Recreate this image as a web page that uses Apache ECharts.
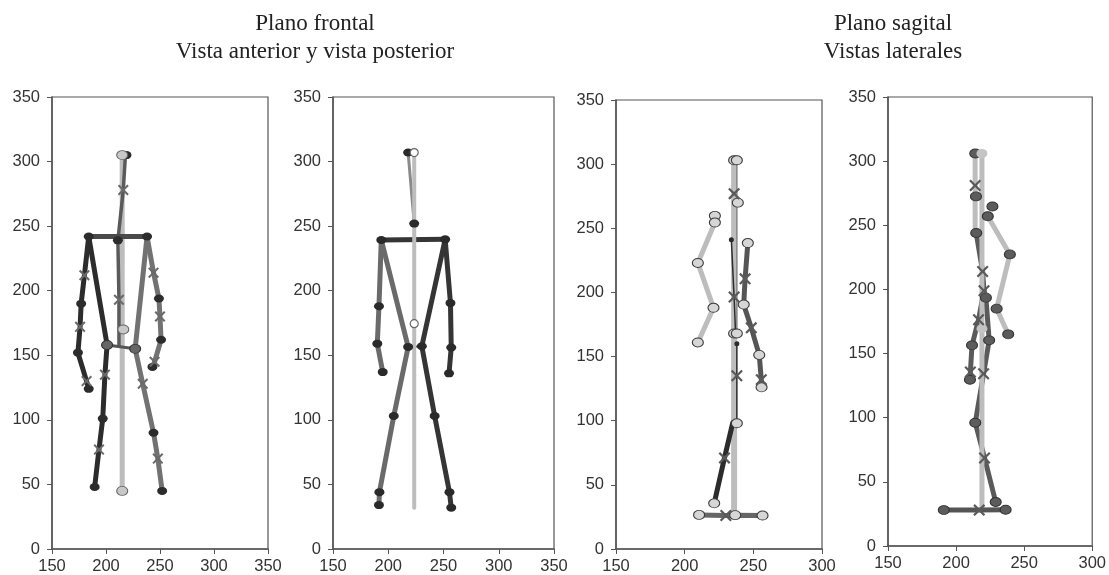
<!DOCTYPE html>
<html><head><meta charset="utf-8">
<script src="https://cdn.jsdelivr.net/npm/echarts@6/dist/echarts.min.js"></script>
<style>html,body{margin:0;padding:0;background:#fff}#c{width:1109px;height:575px}</style>
</head><body><div id="c"></div>
<script>
// ---------- titles & ticks ----------
const titleFrontal = ['Plano frontal', 'Vista anterior y vista posterior'];
const titleSagital = ['Plano sagital', 'Vistas laterales'];
const yRange = [0, 350, 50];
const xRangeFrontal = [150, 350, 50];
const xRangeSagital = [150, 300, 50];

// ---------- Panel 1: vista anterior ----------
const p1Spine = [[215, 305], [215, 45]];
const p1Head = [[218, 305], [216, 278], [211, 239], [212, 193], [212, 157]];
const p1Shoulders = [[184, 242], [238, 242]];
const p1LeftArm = [[184, 242], [180, 212], [177, 190], [176, 172], [174, 152], [182, 130], [184, 124]];
const p1LeftTrunk = [[184, 242], [201, 158]];
const p1Hips = [[201, 158], [227, 155]];
const p1LeftLeg = [[201, 158], [199, 135], [197, 101], [193.5, 77], [189.5, 48]];
const p1RightTrunk = [[238, 242], [227, 155]];
const p1RightArm = [[238, 242], [244, 214], [249, 194], [250, 180], [251, 162], [245, 145], [243, 141]];
const p1RightLeg = [[227, 155], [234, 128], [244, 90], [248, 70], [252, 45]];
const p1Joints = [[184, 242], [238, 242], [177, 190], [174, 152], [184, 124], [197, 101], [189.5, 48],
  [249, 194], [251, 162], [243, 141], [244, 90], [252, 45], [219, 305], [211, 239]];
const p1HipJoints = [[201, 158], [227, 155]];
const p1Crosses = [[180, 212], [176, 172], [182, 130], [199, 135], [193.5, 77], [244, 214], [250, 180],
  [245, 145], [234, 128], [248, 70], [216, 278], [212, 193]];
const p1Light = [[215, 305], [215, 45], [216, 170]];

// ---------- Panel 2: vista posterior ----------
const p2Spine = [[223.5, 307], [223.5, 32]];
const p2Head = [[218, 307], [223.5, 252]];
const p2Shoulders = [[193.7, 239.3], [251.5, 239.8]];
const p2LeftArm = [[193.7, 239.3], [191.6, 188], [190.1, 159], [195, 137]];
const p2RightArm = [[251.5, 239.8], [256.3, 190.4], [257, 156], [255, 136]];
const p2LeftTrunk = [[193.7, 239.3], [218, 156.5]];
const p2RightTrunk = [[251.5, 239.8], [230.4, 157]];
const p2LeftLeg = [[218, 156.5], [205, 103], [192, 44], [191.6, 34]];
const p2RightLeg = [[230.4, 157], [242, 103], [255.4, 44], [257, 32]];
const p2Hips = [[218, 156.5], [230.4, 157]];
const p2Joints = [[193.7, 239.3], [251.5, 239.8], [191.6, 188], [190.1, 159], [195, 137], [256.3, 190.4],
  [257, 156], [255, 136], [218, 156.5], [230.4, 157], [205, 103], [192, 44], [191.6, 34], [242, 103],
  [255.4, 44], [257, 32], [218, 307], [223.5, 252]];
const p2Open = [[223.5, 307], [223.5, 174.5]];

// ---------- Panel 3: vista lateral ----------
const p3Spine = [[236, 303], [236, 26]];
const p3Neck = [[238, 303], [238, 168]];
const p3Thin = [[234, 241], [236, 196], [237, 170]];
const p3Thin2 = [[238, 160], [238, 100]];
const p3LightArm = [[222, 254.5], [209.6, 223], [221, 188], [209.6, 161]];
const p3DarkArm = [[246, 238.5], [244, 210.6], [243, 190.5], [248.5, 172.4], [254.3, 151.3], [255.8, 132], [256, 126]];
const p3Leg = [[235, 98.3], [229, 71], [221.5, 35.6]];
const p3Foot = [[210.5, 26.6], [230, 26.1], [236.8, 26.4], [256.7, 26.1]];
const p3Circles = [[236, 303], [238, 303], [238.7, 270], [222, 259.7], [222, 254.5], [209.6, 223], [221, 188],
  [209.6, 161], [246, 238.5], [243, 190.5], [254.3, 151.3], [256, 126], [236, 168], [238, 168], [238, 98],
  [221.5, 35.6], [210.5, 26.6], [236.8, 26.4], [256.7, 26.1]];
const p3Crosses = [[236, 277], [236, 196.4], [238, 135], [244, 210.6], [248.5, 172.4], [255.8, 132], [229, 71], [230, 26.1]];
const p3Dots = [[234, 241], [238, 160]];

// ---------- Panel 4: vista lateral ----------
const p4Spine = [[219, 306], [219, 28]];
const p4Neck = [[214, 306], [214, 244]];
const p4Trunk = [[214.8, 244], [219.5, 214], [220.5, 199], [221.9, 193.6], [224.3, 160.3], [220.2, 134.3],
  [214.1, 96.1], [220.9, 68.6], [229.1, 34.3]];
const p4Arm = [[220.5, 199], [216.5, 176.4], [211.7, 156.4], [210.5, 135.6], [210.2, 129.6]];
const p4LightArm = [[223.3, 257], [239.5, 227.3], [229.8, 185], [238.3, 165]];
const p4Foot = [[191, 28], [217, 28], [236.4, 28.3]];
const p4Joints = [[214.1, 306], [214.6, 272.5], [214.8, 244], [221.9, 193.6], [211.7, 156.4], [210.2, 129.6],
  [224.3, 160.3], [214.1, 96.1], [229.1, 34.3], [191, 28], [236.4, 28.3], [226.7, 264.7], [223.3, 257],
  [239.5, 227.3], [229.8, 185], [238.3, 165]];
const p4Light = [[219, 306], [219, 169.4]];
const p4Crosses = [[214, 281], [219.5, 214], [220.5, 199], [216.5, 176.4], [210.5, 135.6], [220.2, 134.3],
  [220.9, 68.6], [217, 28]];

// ---------- styles ----------
const BLACK = '#2c2c2c', DARK = '#4a4a4a', MID = '#727272', LIGHT = '#bdbdbd';
const CROSS = 'path://M0,1.3L1.3,0L5,3.7L8.7,0L10,1.3L6.3,5L10,8.7L8.7,10L5,6.3L1.3,10L0,8.7L3.7,5Z';
const chart = echarts.init(document.getElementById('c'));
const series = [];
function ln(g, data, color, width) {
  series.push({ type: 'line', xAxisIndex: g, yAxisIndex: g, data, showSymbol: false, silent: true,
    lineStyle: { color, width, cap: 'round', join: 'round' }, z: 2 });
}
function pts(g, data, symbol, size, color, border, bw, z) {
  series.push({ type: 'scatter', xAxisIndex: g, yAxisIndex: g, data, symbol, symbolSize: size, silent: true,
    itemStyle: { color, borderColor: border, borderWidth: bw, opacity: 1 }, z: z || 3 });
}
// panel 1
ln(0, p1Spine, LIGHT, 5);
ln(0, p1Head, '#5a5a5a', 3.5);
ln(0, p1Shoulders, DARK, 5);
ln(0, p1LeftTrunk, BLACK, 5);
ln(0, p1LeftArm, BLACK, 5);
ln(0, p1LeftLeg, BLACK, 5);
ln(0, p1RightTrunk, MID, 5);
ln(0, p1RightArm, MID, 5);
ln(0, p1RightLeg, MID, 5);
ln(0, p1Hips, '#555', 3);
pts(0, p1Joints, 'circle', [10, 8], BLACK, BLACK, 0);
pts(0, p1HipJoints, 'circle', [11, 9], '#666', '#333', 1);
pts(0, p1Crosses, CROSS, 11, '#6a6a6a', null, 0, 4);
pts(0, p1Light, 'circle', [11, 9], '#c8c8c8', '#666', 1);
// panel 2
ln(1, p2Head, '#8a8a8a', 3);
ln(1, p2Shoulders, '#353535', 5);
ln(1, p2LeftArm, '#6a6a6a', 5);
ln(1, p2RightArm, '#353535', 5);
ln(1, p2LeftTrunk, '#6a6a6a', 5);
ln(1, p2RightTrunk, '#353535', 5);
ln(1, p2LeftLeg, '#6a6a6a', 5);
ln(1, p2RightLeg, '#353535', 5);
ln(1, p2Hips, '#555', 2);
ln(1, p2Spine, LIGHT, 4);
pts(1, p2Joints, 'circle', [10, 8], '#2a2a2a', '#2a2a2a', 0);
pts(1, p2Open, 'circle', 8, '#fff', '#666', 1.2);
// panel 3
ln(2, p3Spine, LIGHT, 6);
ln(2, p3Neck, '#888', 1.5);
ln(2, p3Thin, BLACK, 1.5);
ln(2, p3Thin2, BLACK, 1.5);
ln(2, p3LightArm, LIGHT, 5);
ln(2, p3DarkArm, '#555', 5);
ln(2, p3Leg, BLACK, 5);
ln(2, p3Foot, '#666', 5);
pts(2, p3Circles, 'circle', [11, 9], '#d6d6d6', '#3a3a3a', 1);
pts(2, p3Crosses, CROSS, 12, '#5a5a5a', null, 0, 4);
pts(2, p3Dots, 'circle', 5, BLACK, BLACK, 0);
// panel 4
ln(3, p4Neck, LIGHT, 5);
ln(3, p4LightArm, LIGHT, 5);
ln(3, p4Trunk, '#5a5a5a', 5);
ln(3, p4Arm, '#5a5a5a', 5);
ln(3, p4Spine, LIGHT, 5);
ln(3, p4Foot, '#555', 5);
pts(3, p4Joints, 'circle', [11, 9], '#5c5c5c', '#333', 1);
pts(3, p4Light, 'circle', [11, 9], '#c4c4c4', '#c4c4c4', 0);
pts(3, p4Crosses, CROSS, 12, '#5a5a5a', null, 0, 4);

const grids = [
  { left: 52, width: 216, top: 97, height: 453 },
  { left: 333, width: 221, top: 97, height: 453 },
  { left: 616, width: 206, top: 100, height: 452 },
  { left: 888, width: 207, top: 97, height: 449 }
].map(g => Object.assign(g, { show: true, borderColor: '#555', borderWidth: 1.2, backgroundColor: '#fff' }));
const axLabel = { fontFamily: 'Liberation Sans', fontSize: 16.5, color: '#333' };
const axLine = { show: true, lineStyle: { color: '#555', width: 1.5 } };
const xRanges = [xRangeFrontal, xRangeFrontal, xRangeSagital, xRangeSagital];
const xAxis = xRanges.map((r, i) => ({ type: 'value', gridIndex: i, min: r[0], max: r[1], interval: r[2],
  axisLine: axLine, axisTick: { show: true, length: 5, lineStyle: { color: '#555' } },
  splitLine: { show: false }, axisLabel: Object.assign({ margin: 9 }, axLabel) }));
const yAxis = [0, 1, 2, 3].map(i => ({ type: 'value', gridIndex: i, min: yRange[0], max: yRange[1], interval: yRange[2],
  axisLine: axLine, axisTick: { show: true, length: 5, lineStyle: { color: '#555' } },
  splitLine: { show: false }, axisLabel: Object.assign({ margin: 12 }, axLabel) }));
const tStyle = { fontFamily: 'Liberation Serif', fontSize: 23, fontWeight: 'normal', color: '#222' };
chart.setOption({
  animation: false,
  title: [
    { text: titleFrontal[0], left: 310, top: 7, textAlign: 'center', textStyle: tStyle },
    { text: titleFrontal[1], left: 310, top: 35, textAlign: 'center', textStyle: tStyle },
    { text: titleSagital[0], left: 888, top: 7, textAlign: 'center', textStyle: tStyle },
    { text: titleSagital[1], left: 888, top: 35, textAlign: 'center', textStyle: tStyle }
  ],
  grid: grids, xAxis, yAxis, series
});
</script></body></html>
